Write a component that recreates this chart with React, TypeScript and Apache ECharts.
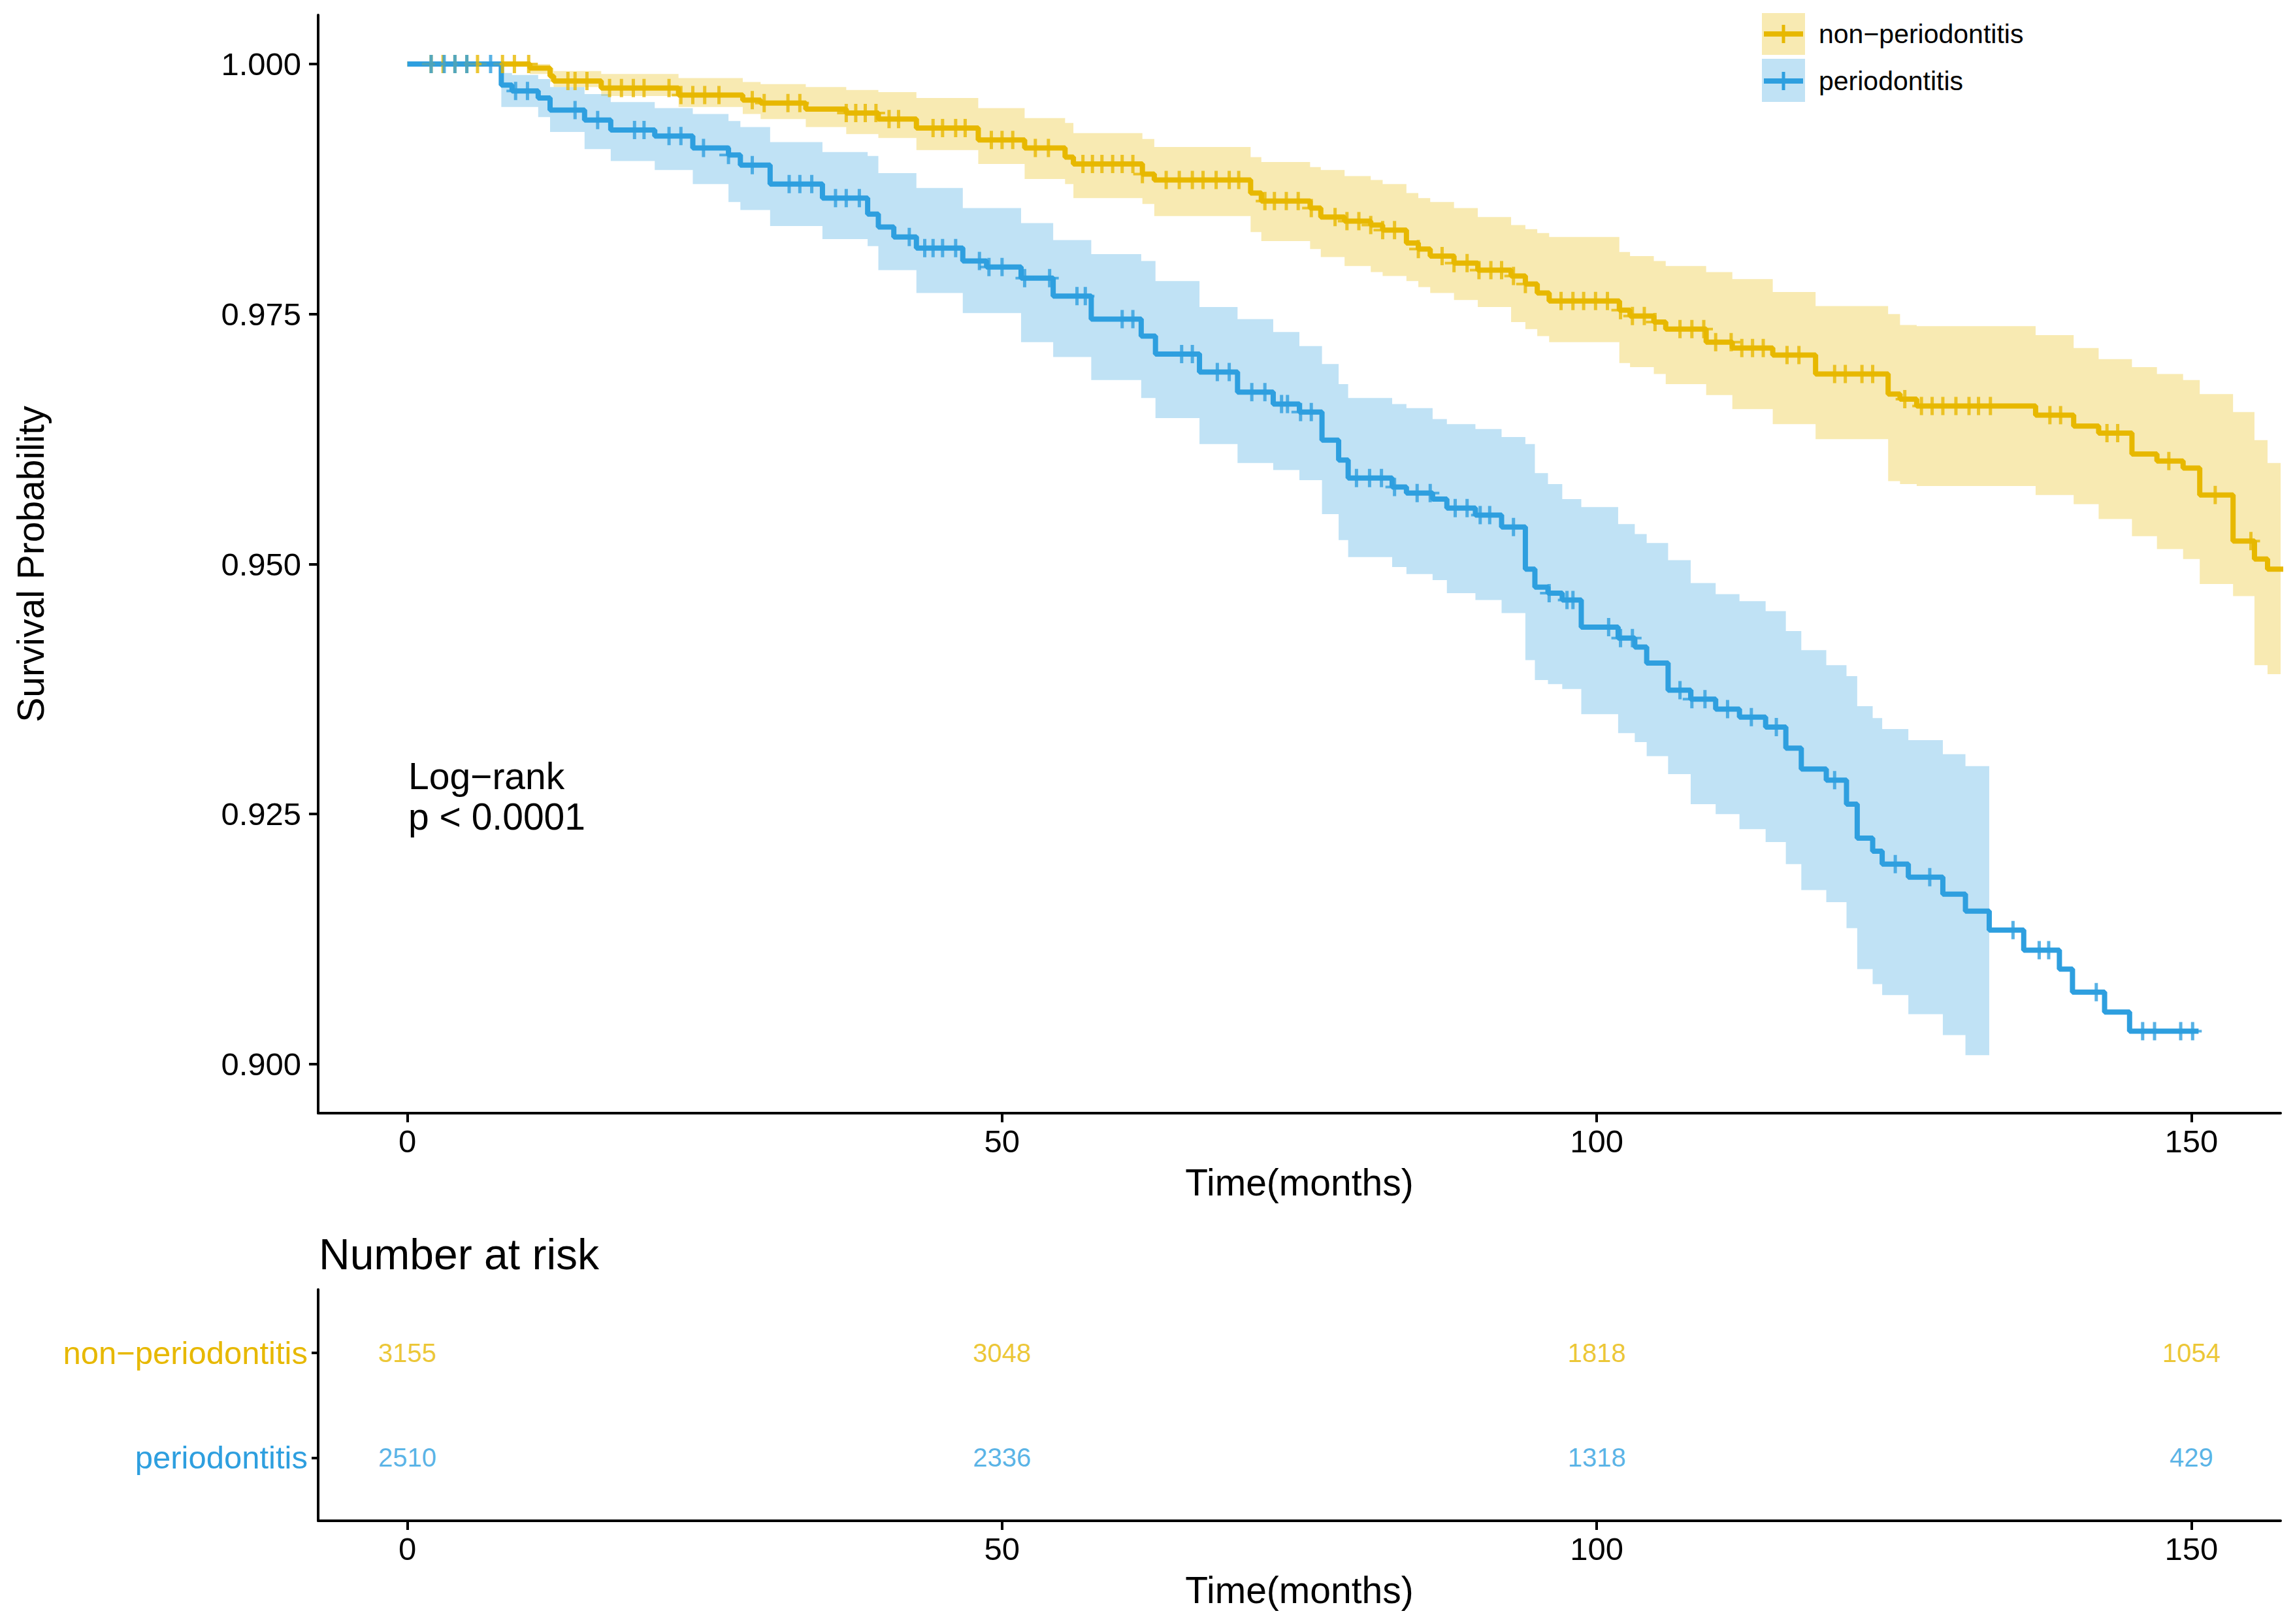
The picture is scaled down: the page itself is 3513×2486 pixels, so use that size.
import { useEffect, useRef } from 'react';
import * as echarts from 'echarts';

const YELLOW = '#E7B800';
const BLUE = '#2E9FDF';
const YELLOW_FILL = 'rgba(231,184,0,0.3)';
const BLUE_FILL = 'rgba(46,159,223,0.3)';
const FONT = 'Liberation Sans, Arial, sans-serif';
const X_MIN = -7.5;
const X_MAX = 157.5;

// non-periodontitis: KM steps (time, survival, lower / upper CI)
const nonTime = [0, 10.3, 12.0, 12.3, 16.3, 22.8, 28.2, 29.7, 33.5, 36.9, 39.6, 42.8, 48.0, 51.9, 55.3, 56.0, 61.8, 62.8, 70.9, 71.8, 75.9, 76.8, 78.8, 81.0, 82.0, 84.0, 85.0, 86.0, 88.0, 90.0, 92.8, 94.0, 95.0, 96.0, 101.9, 102.8, 104.8, 105.8, 109.2, 111.4, 114.8, 118.4, 124.5, 125.5, 126.9, 136.9, 140.1, 142.2, 145.0, 147.1, 149.3, 150.7, 153.5, 155.3, 156.4, 158.0];
const nonSurv = [1.0, 0.9996, 0.9988, 0.9983, 0.9976, 0.9969, 0.9964, 0.9961, 0.9955, 0.9951, 0.9945, 0.9936, 0.9924, 0.9916, 0.9907, 0.99, 0.989, 0.9884, 0.9871, 0.9863, 0.9856, 0.9847, 0.9843, 0.9839, 0.9834, 0.9821, 0.9815, 0.9808, 0.9801, 0.9794, 0.9788, 0.978, 0.9771, 0.9763, 0.9754, 0.9748, 0.9742, 0.9735, 0.9722, 0.9716, 0.9709, 0.969, 0.967, 0.9665, 0.9658, 0.9649, 0.9638, 0.9631, 0.961, 0.9603, 0.9596, 0.9569, 0.9523, 0.9505, 0.9495, 0.9495];
const nonLower = [1.0, 0.999, 0.9982, 0.9977, 0.9968, 0.9957, 0.995, 0.9945, 0.9937, 0.993, 0.9926, 0.9914, 0.99, 0.9885, 0.988, 0.9866, 0.986, 0.9848, 0.9832, 0.9823, 0.9815, 0.9807, 0.9798, 0.9792, 0.9788, 0.9783, 0.9777, 0.9771, 0.9764, 0.9757, 0.9742, 0.9735, 0.9728, 0.9722, 0.9701, 0.9697, 0.969, 0.968, 0.9669, 0.9655, 0.964, 0.9625, 0.9583, 0.958, 0.9578, 0.9569, 0.956, 0.9545, 0.9528, 0.9515, 0.9505, 0.948, 0.9468, 0.9399, 0.939, 0.939];
const nonUpper = [1.0, 1.0, 0.9996, 0.9993, 0.999, 0.9986, 0.9982, 0.998, 0.9977, 0.9974, 0.9972, 0.9966, 0.9956, 0.9946, 0.9941, 0.9931, 0.9925, 0.9917, 0.9907, 0.9902, 0.9897, 0.9894, 0.9888, 0.9884, 0.988, 0.9871, 0.9866, 0.9862, 0.9856, 0.9847, 0.9839, 0.9835, 0.9831, 0.9827, 0.9812, 0.9808, 0.9803, 0.9798, 0.9792, 0.9785, 0.9772, 0.9758, 0.975, 0.9739, 0.9738, 0.9729, 0.9716, 0.9705, 0.9697, 0.969, 0.9684, 0.967, 0.9652, 0.9624, 0.9601, 0.9601];
const nonCensor = [2.0, 3.0, 4.0, 5.0, 5.9, 8.0, 9.0, 10.2, 13.5, 14.1, 15.1, 17.0, 18.0, 19.0, 19.9, 22.0, 23.0, 24.0, 25.0, 26.2, 29.0, 30.0, 32.0, 33.0, 36.9, 37.7, 38.5, 39.4, 40.5, 41.3, 44.2, 45.0, 46.1, 46.9, 49.1, 50.0, 50.9, 52.8, 53.9, 56.8, 57.6, 58.4, 59.3, 60.1, 61.0, 61.8, 63.8, 64.9, 66.0, 66.9, 68.0, 69.1, 69.9, 72.1, 72.9, 73.9, 74.9, 76.0, 78.0, 79.0, 80.0, 81.0, 82.0, 83.0, 85.0, 87.0, 88.0, 89.1, 90.1, 91.1, 92.0, 93.0, 94.0, 97.0, 98.0, 98.9, 99.9, 100.9, 102.0, 103.0, 104.0, 104.9, 107.0, 108.0, 109.0, 110.0, 111.3, 112.2, 113.1, 114.0, 116.0, 117.0, 120.0, 120.9, 122.3, 123.2, 125.9, 127.3, 128.2, 129.1, 130.2, 131.3, 132.1, 133.1, 138.1, 139.0, 142.9, 143.8, 148.1, 152.0, 155.0];

// periodontitis: KM steps; the confidence band stops at 133 months
const perTime = [0, 7.9, 8.8, 11.0, 12.0, 14.9, 17.1, 20.8, 24.0, 27.0, 28.0, 30.5, 34.9, 38.7, 39.6, 40.9, 42.8, 46.7, 48.7, 51.6, 54.3, 57.5, 61.7, 62.9, 66.6, 69.8, 72.8, 75.0, 76.9, 78.3, 79.1, 82.8, 84.0, 86.2, 87.4, 89.8, 92.0, 94.0, 94.8, 95.9, 97.1, 98.7, 101.8, 103.2, 104.2, 106.0, 107.9, 110.0, 112.0, 114.2, 115.9, 117.2, 119.3, 121.0, 121.9, 123.2, 124.0, 126.2, 129.1, 131.0, 133.0, 135.9, 138.9, 140.0, 142.7, 144.8, 150.6];
const perSurv = [1.0, 0.9979, 0.9973, 0.9966, 0.9954, 0.9944, 0.9934, 0.9928, 0.9916, 0.9909, 0.9899, 0.988, 0.9866, 0.985, 0.9837, 0.9827, 0.9816, 0.9803, 0.9797, 0.9786, 0.9768, 0.9745, 0.9728, 0.971, 0.9692, 0.9672, 0.966, 0.9652, 0.9624, 0.9604, 0.9586, 0.9577, 0.9571, 0.9565, 0.9556, 0.9549, 0.9537, 0.9495, 0.9477, 0.9471, 0.9464, 0.9437, 0.9426, 0.9417, 0.9401, 0.9374, 0.9365, 0.9355, 0.9347, 0.9337, 0.9316, 0.9295, 0.9284, 0.926, 0.9226, 0.9213, 0.92, 0.9187, 0.917, 0.9153, 0.9134, 0.9114, 0.9095, 0.9072, 0.9052, 0.9033, 0.9033];
const perLower = [1.0, 0.9957, 0.9957, 0.9947, 0.9932, 0.9915, 0.9903, 0.9894, 0.988, 0.9862, 0.9854, 0.9838, 0.9825, 0.9818, 0.9794, 0.9794, 0.9771, 0.9751, 0.9751, 0.9722, 0.9707, 0.9684, 0.9666, 0.9646, 0.962, 0.9601, 0.9594, 0.9584, 0.955, 0.9524, 0.9507, 0.9497, 0.949, 0.9484, 0.9471, 0.9464, 0.9451, 0.9404, 0.9384, 0.938, 0.9375, 0.935, 0.9331, 0.9322, 0.9308, 0.929, 0.926, 0.925, 0.9235, 0.9222, 0.92, 0.9174, 0.9162, 0.9136, 0.9095, 0.908, 0.9069, 0.905, 0.9029, 0.9009, 0.9009];
const perUpper = [1.0, 0.9991, 0.9989, 0.9985, 0.9977, 0.997, 0.9962, 0.9956, 0.995, 0.9943, 0.9937, 0.9922, 0.9912, 0.9908, 0.9891, 0.9891, 0.9876, 0.9856, 0.9856, 0.9841, 0.9824, 0.981, 0.9803, 0.9783, 0.9757, 0.9745, 0.9732, 0.9718, 0.97, 0.968, 0.9666, 0.966, 0.9656, 0.9645, 0.964, 0.9635, 0.9627, 0.962, 0.9591, 0.958, 0.9565, 0.9557, 0.954, 0.953, 0.9521, 0.9504, 0.9481, 0.947, 0.9463, 0.9453, 0.9433, 0.9414, 0.9399, 0.9388, 0.9358, 0.9346, 0.9335, 0.9324, 0.931, 0.9298, 0.9298];
const perCensor = [2.0, 3.1, 4.0, 5.0, 7.0, 9.1, 10.1, 14.1, 16.0, 19.1, 19.9, 22.0, 23.0, 24.9, 27.0, 29.0, 32.1, 33.0, 34.0, 36.0, 36.9, 38.0, 42.2, 43.5, 44.2, 45.0, 46.1, 48.1, 48.9, 50.0, 51.9, 54.0, 56.3, 57.0, 60.1, 61.0, 65.1, 66.0, 68.1, 69.1, 71.0, 72.1, 73.5, 74.0, 75.1, 76.0, 79.8, 80.9, 81.9, 83.0, 84.9, 86.0, 88.1, 89.1, 90.2, 91.0, 93.0, 96.0, 97.5, 98.0, 101.0, 102.0, 103.0, 107.0, 108.0, 109.1, 111.0, 113.0, 115.1, 120.0, 125.1, 128.0, 135.0, 137.2, 138.0, 142.0, 145.9, 146.9, 149.1, 150.1];

const xTicks = [0, 50, 100, 150];
const yTicks = [0.9, 0.925, 0.95, 0.975, 1.0];

// number at risk table
const riskTimes = [0, 50, 100, 150];
const riskNon = [3155, 3048, 1818, 1054];
const riskPer = [2510, 2336, 1318, 429];
const tableRows = ['periodontitis', 'non\u2212periodontitis'];

function stepAt(times: number[], surv: number[], t: number) {
  let v = surv[0];
  for (let i = 0; i < times.length; i++) {
    if (times[i] <= t) v = surv[i];
  }
  return v;
}

const plusSymbol = 'path://M11.5,0h5v28h-5z M0,12h28v4h-28z';

function buildOption(): echarts.EChartsOption {
  const axisLine = { show: true, onZero: false, lineStyle: { color: '#000', width: 4 } };
  const tick = (values: number[], len: number) => ({
    show: true,
    customValues: values,
    length: len,
    lineStyle: { color: '#000', width: 4 },
  });

  // step-shaped confidence ribbon drawn as one polygon through the axes
  const ribbon = (name: string, times: number[], lower: number[], upper: number[], fill: string) => ({
    name,
    type: 'custom',
    data: [[0, 1]],
    silent: true,
    z: 1,
    renderItem: (_params: any, api: any) => {
      const top: number[][] = [];
      const bottom: number[][] = [];
      const n = lower.length;
      for (let i = 0; i < n; i++) {
        const t0 = Math.min(times[i], X_MAX);
        const t1 = Math.min(i + 1 < n ? times[i + 1] : times[i], X_MAX);
        top.push(api.coord([t0, upper[i]]), api.coord([t1, upper[i]]));
        bottom.push(api.coord([t0, lower[i]]), api.coord([t1, lower[i]]));
      }
      return {
        type: 'polygon',
        shape: { points: top.concat(bottom.reverse()) },
        style: { fill, stroke: 'none' },
      };
    },
  });

  const kmLine = (name: string, times: number[], surv: number[], color: string) => ({
    name,
    type: 'line',
    step: 'end',
    data: times.map((t, i) => [t, surv[i]]),
    symbol: 'none',
    lineStyle: { color, width: 8 },
    z: 3,
  });

  const censor = (name: string, times: number[], surv: number[], marks: number[], color: string) => ({
    name: name + ' censor',
    type: 'scatter',
    data: marks.map(t => [t, stepAt(times, surv, t)]),
    symbol: plusSymbol,
    symbolSize: 28,
    itemStyle: { color },
    z: 4,
  });

  const riskSeries = (row: number, counts: number[], color: string) => ({
    type: 'scatter',
    xAxisIndex: 1,
    yAxisIndex: 1,
    data: riskTimes.map((t, i) => [t, row, counts[i]]),
    symbolSize: 1,
    itemStyle: { color: 'transparent' },
    label: {
      show: true,
      position: 'inside',
      formatter: (p: any) => String(p.value[2]),
      color,
      fontSize: 40,
      fontFamily: FONT,
    },
  });

  const xAxisBase = (gridIndex: number) => ({
    type: 'value',
    gridIndex,
    min: X_MIN,
    max: X_MAX,
    name: 'Time(months)',
    nameLocation: 'middle',
    nameGap: 77,
    nameTextStyle: { fontSize: 57, color: '#000', fontFamily: FONT },
    axisLine,
    axisTick: tick(xTicks, 14),
    axisLabel: { customValues: xTicks, fontSize: 49, color: '#000', margin: 18, fontFamily: FONT },
    splitLine: { show: false },
  });

  return {
    animation: false,
    backgroundColor: '#fff',
    textStyle: { fontFamily: FONT },
    grid: [
      { left: 487, top: 23, width: 3004, height: 1681 },
      { left: 487, top: 1974, width: 3004, height: 354 },
    ],
    xAxis: [xAxisBase(0), xAxisBase(1)] as any,
    yAxis: [
      {
        type: 'value',
        gridIndex: 0,
        min: 0.8951,
        max: 1.0049,
        name: 'Survival Probability',
        nameLocation: 'middle',
        nameGap: 412,
        nameTextStyle: { fontSize: 57, color: '#000', fontFamily: FONT },
        axisLine,
        axisTick: tick(yTicks, 14),
        axisLabel: {
          customValues: yTicks,
          formatter: (v: number) => Number(v).toFixed(3),
          fontSize: 49,
          color: '#000',
          margin: 26,
          fontFamily: FONT,
        },
        splitLine: { show: false },
      },
      {
        type: 'value',
        gridIndex: 1,
        min: 0.4,
        max: 2.6,
        axisLine,
        axisTick: tick([1, 2], 10),
        axisLabel: {
          customValues: [1, 2],
          formatter: (v: number) => tableRows[Math.round(Number(v)) - 1],
          color: ((v: any) => (Math.round(Number(v)) === 2 ? YELLOW : BLUE)) as any,
          fontSize: 49,
          margin: 16,
          fontFamily: FONT,
        },
        splitLine: { show: false },
      },
    ] as any,
    graphic: [
      { type: 'text', x: 625, y: 1188, style: { text: 'Log\u2212rank', fontSize: 57, fontFamily: FONT, fill: '#000', verticalAlign: 'middle' } },
      { type: 'text', x: 625, y: 1250, style: { text: 'p < 0.0001', fontSize: 57, fontFamily: FONT, fill: '#000', verticalAlign: 'middle' } },
      { type: 'text', x: 488, y: 1920, style: { text: 'Number at risk', fontSize: 66, fontFamily: FONT, fill: '#000', verticalAlign: 'middle' } },
      // legend keys
      { type: 'rect', shape: { x: 2697, y: 20, width: 66, height: 64 }, style: { fill: YELLOW_FILL } },
      { type: 'line', shape: { x1: 2700, y1: 52, x2: 2760, y2: 52 }, style: { stroke: YELLOW, lineWidth: 8 } },
      { type: 'line', shape: { x1: 2730, y1: 38, x2: 2730, y2: 66 }, style: { stroke: YELLOW, lineWidth: 5 } },
      { type: 'text', x: 2784, y: 52, style: { text: 'non\u2212periodontitis', fontSize: 41, fontFamily: FONT, fill: '#000', verticalAlign: 'middle' } },
      { type: 'rect', shape: { x: 2697, y: 90, width: 66, height: 66 }, style: { fill: BLUE_FILL } },
      { type: 'line', shape: { x1: 2700, y1: 124, x2: 2760, y2: 124 }, style: { stroke: BLUE, lineWidth: 8 } },
      { type: 'line', shape: { x1: 2730, y1: 110, x2: 2730, y2: 138 }, style: { stroke: BLUE, lineWidth: 5 } },
      { type: 'text', x: 2784, y: 124, style: { text: 'periodontitis', fontSize: 41, fontFamily: FONT, fill: '#000', verticalAlign: 'middle' } },
    ] as any,
    series: [
      ribbon('non ci', nonTime, nonLower, nonUpper, YELLOW_FILL),
      ribbon('per ci', perTime, perLower, perUpper, BLUE_FILL),
      kmLine('non\u2212periodontitis', nonTime, nonSurv, YELLOW),
      kmLine('periodontitis', perTime, perSurv, BLUE),
      censor('non', nonTime, nonSurv, nonCensor, YELLOW),
      censor('per', perTime, perSurv, perCensor, BLUE),
      riskSeries(2, riskNon, YELLOW),
      riskSeries(1, riskPer, BLUE),
    ] as any,
  };
}

export default function App() {
  const chartRef = useRef<HTMLDivElement>(null);

  useEffect(() => {
    if (!chartRef.current) return;
    const chart = echarts.init(chartRef.current, undefined, { renderer: 'svg' });
    chart.setOption(buildOption());
    return () => {
      chart.dispose();
    };
  }, []);

  return (
    <div
      ref={chartRef}
      style={{ position: 'absolute', left: 0, top: 0, width: 3513, height: 2486, background: '#fff' }}
    />
  );
}
